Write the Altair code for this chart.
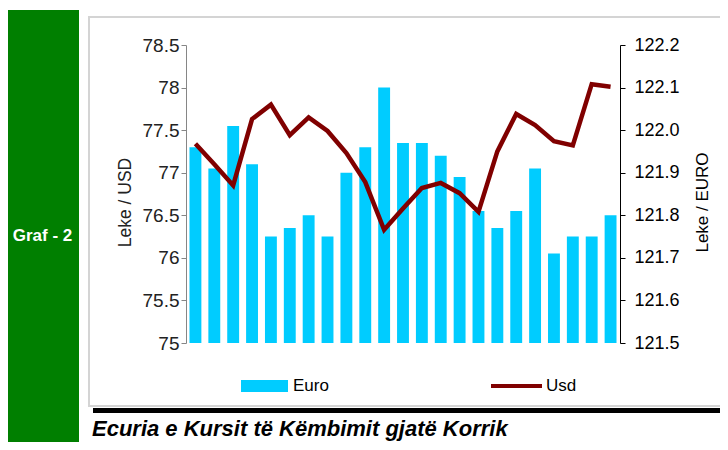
import altair as alt
import pandas as pd

days = [str(i) for i in range(1, 24)]
euro = [121.96, 121.91, 122.01, 121.92, 121.75, 121.77, 121.80, 121.75, 121.90, 121.96,
        122.10, 121.97, 121.97, 121.94, 121.89, 121.81, 121.77, 121.81, 121.91, 121.71,
        121.75, 121.75, 121.80]
usd = [77.34, 77.10, 76.85, 77.63, 77.80, 77.44, 77.65, 77.49, 77.23, 76.89,
       76.33, 76.58, 76.82, 76.88, 76.76, 76.54, 77.25, 77.69, 77.56, 77.37,
       77.32, 78.04, 78.01]
usd_ticks = [75, 75.5, 76, 76.5, 77, 77.5, 78, 78.5]
euro_ticks = [121.5, 121.6, 121.7, 121.8, 121.9, 122.0, 122.1, 122.2]

df = pd.DataFrame({"day": days, "Euro": euro, "Usd": usd,
                   "s_e": ["Euro"] * len(days), "s_u": ["Usd"] * len(days)})

W, H = 434, 298

xenc = alt.X("day:O", sort=days, axis=None,
             scale=alt.Scale(paddingInner=0.37, paddingOuter=0.185))

base = alt.Chart(df)

bars = base.mark_bar(color="#00CCFF").encode(
    x=xenc,
    y=alt.Y("Euro:Q", scale=alt.Scale(domain=[121.5, 122.2], zero=False, nice=False),
            axis=alt.Axis(orient="right", values=euro_ticks, format=".1f", grid=False,
                          title="Leke / EURO", titleAngle=270, titleX=82, titleY=157,
                          titleBaseline="middle", titleAlign="center",
                          titleFont="Liberation Sans", titleFontSize=17, titleFontWeight="normal",
                          titleColor="#000000",
                          labelFont="Liberation Sans", labelFontSize=18, labelColor="#000000",
                          domainColor="#000000", tickColor="#000000", tickSize=5,
                          labelPadding=9)),
    y2=alt.datum(121.5),
    color=alt.Color("s_e:N", scale=alt.Scale(domain=["Euro"], range=["#00CCFF"]),
                    legend=alt.Legend(title=None, orient="none", legendX=55, legendY=317.5,
                                      padding=0,
                                      symbolType="M-1,-0.255H1V0.255H-1Z", symbolSize=2209,
                                      symbolStrokeWidth=0, symbolFillColor="#00CCFF",
                                      labelOffset=5, labelFont="Liberation Sans",
                                      labelFontSize=17, labelColor="#000000")),
)

line = base.mark_line(strokeWidth=4.5, color="#800000").encode(
    x=xenc,
    y=alt.Y("Usd:Q", scale=alt.Scale(domain=[75, 78.5], zero=False, nice=False),
            axis=alt.Axis(orient="left", values=usd_ticks, format="~f", grid=False,
                          title="Leke / USD", titleAngle=270, titleX=-61, titleY=157,
                          titleBaseline="middle", titleAlign="center",
                          titleFont="Liberation Sans", titleFontSize=17.5, titleFontWeight="normal",
                          titleColor="#222222",
                          labelFont="Liberation Sans", labelFontSize=19, labelColor="#222222",
                          domainColor="#868686", tickColor="#868686", tickSize=5,
                          labelPadding=2)),
    stroke=alt.Stroke("s_u:N", scale=alt.Scale(domain=["Usd"], range=["#800000"]),
                      legend=alt.Legend(title=None, orient="none", legendX=303, legendY=313.5,
                                        padding=0, symbolType="stroke", symbolSize=2601,
                                        symbolStrokeWidth=4, labelOffset=2,
                                        labelFont="Liberation Sans", labelFontSize=17,
                                        labelColor="#000000")),
)

# decorations (page frame); none of them overlaps the plot area
one = df.head(1)
green = alt.Chart(one).mark_rect(fill="#007F00").encode(
    x=alt.value(-180), x2=alt.value(-107), y=alt.value(-35), y2=alt.value(420))
graf = alt.Chart(one).mark_text(
    text="Graf - 2", color="white", font="Liberation Sans", fontWeight="bold",
    fontSize=17, align="center", baseline="alphabetic").encode(
    x=alt.value(-143.5), y=alt.value(195.5))
box = alt.Chart(one).mark_rect(fill="transparent", stroke="#d4d4d4", strokeWidth=2).encode(
    x=alt.value(-97), x2=alt.value(580), y=alt.value(-28), y2=alt.value(361))
blackbar = alt.Chart(one).mark_rect(fill="black").encode(
    x=alt.value(-93), x2=alt.value(580), y=alt.value(363), y2=alt.value(368))
title = alt.Chart(one).mark_text(
    text="Ecuria e Kursit të Këmbimit gjatë Korrik", color="black",
    font="Liberation Sans", fontWeight="bold", fontStyle="italic", fontSize=22,
    align="left", baseline="alphabetic").encode(
    x=alt.value(-94), y=alt.value(391))

chart = alt.layer(bars, line, green, graf, box, blackbar, title).resolve_scale(
    y="independent", color="independent", stroke="independent"
).properties(
    width=W, height=H, autosize="none",
    padding={"left": 178, "top": 37, "right": 100, "bottom": 99},
    background="white",
).configure_view(stroke=None)

chart.save("out.html", embed_options={"renderer": "svg", "actions": False})
